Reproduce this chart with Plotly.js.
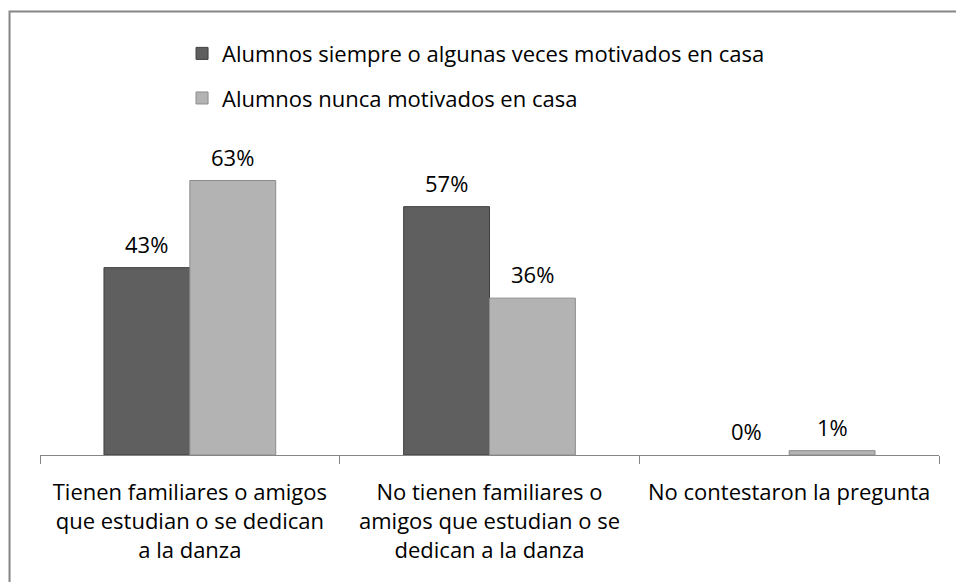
<!DOCTYPE html>
<html>
<head>
<meta charset="utf-8">
<script src="https://cdn.plot.ly/plotly-3.0.1.min.js"></script>
<style>html,body{margin:0;padding:0;background:#fff;}#chart{width:956px;height:582px;}</style>
</head>
<body>
<div id="chart"></div>
<script>
const categories = [
  "Tienen familiares o amigos<br>que estudian o se dedican<br>a la danza",
  "No tienen familiares o<br>amigos que estudian o se<br>dedican a la danza",
  "No contestaron la pregunta"
];
const seriesNames = [
  "Alumnos siempre o algunas veces motivados en casa",
  "Alumnos nunca motivados en casa"
];
const motivados = [43, 57, 0];
const nuncaMotivados = [63, 36, 1];

const FONT = "Open Sans, Noto Sans, sans-serif";
const fmt = v => v + "%";

const traces = [
  {
    type: "bar", name: seriesNames[0], x: categories, y: motivados,
    marker: {color: "#5f5f5f", line: {color: "#3f3f3f", width: motivados.map(v => v > 0 ? 1 : 0)}},
    legendgroup: "a", hoverinfo: "skip"
  },
  {
    type: "bar", name: seriesNames[1], x: categories, y: nuncaMotivados,
    marker: {color: "#b3b3b3", line: {color: "#8c8c8c", width: nuncaMotivados.map(v => v > 0 ? 1 : 0)}},
    legendgroup: "b", hoverinfo: "skip"
  }
];

// data labels above each bar
const annotations = [];
[motivados, nuncaMotivados].forEach((vals, si) => {
  vals.forEach((v, ci) => {
    annotations.push({
      x: ci, y: v, xref: "x", yref: "y",
      xshift: si === 0 ? -43 : 43, yshift: 24,
      text: fmt(v), showarrow: false,
      font: {family: FONT, size: 22, color: "#000"}
    });
  });
});

const layout = {
  width: 956, height: 582,
  margin: {l: 40, r: 17, t: 150, b: 127},
  paper_bgcolor: "#fff", plot_bgcolor: "#fff",
  barmode: "group", bargap: 0.427, bargroupgap: 0,
  showlegend: true,
  legend: {
    x: 0.158, y: 1.385, xanchor: "left", yanchor: "top",
    orientation: "v", tracegroupgap: 13,
    font: {family: FONT, size: 22, color: "#000"},
    itemwidth: 30, bgcolor: "rgba(0,0,0,0)"
  },
  xaxis: {
    type: "category",
    showline: true, linecolor: "#868686", linewidth: 1,
    ticks: "outside", ticklen: 8, tickcolor: "#868686",
    tickson: "boundaries",
    showgrid: false, zeroline: false,
    tickfont: {family: FONT, size: 22, color: "#000"},
    ticklabelstandoff: 18
  },
  yaxis: {
    range: [0, 70], visible: false, showgrid: false, zeroline: false
  },
  annotations: annotations,
  shapes: [{
    type: "rect", xref: "paper", yref: "paper",
    x0: -0.0339, x1: 1.5, y0: -0.8, y1: 1.454,
    line: {color: "#868686", width: 2}, fillcolor: "rgba(0,0,0,0)", layer: "below"
  }]
};

Plotly.newPlot("chart", traces, layout, {displayModeBar: false, staticPlot: true});
</script>
</body>
</html>
